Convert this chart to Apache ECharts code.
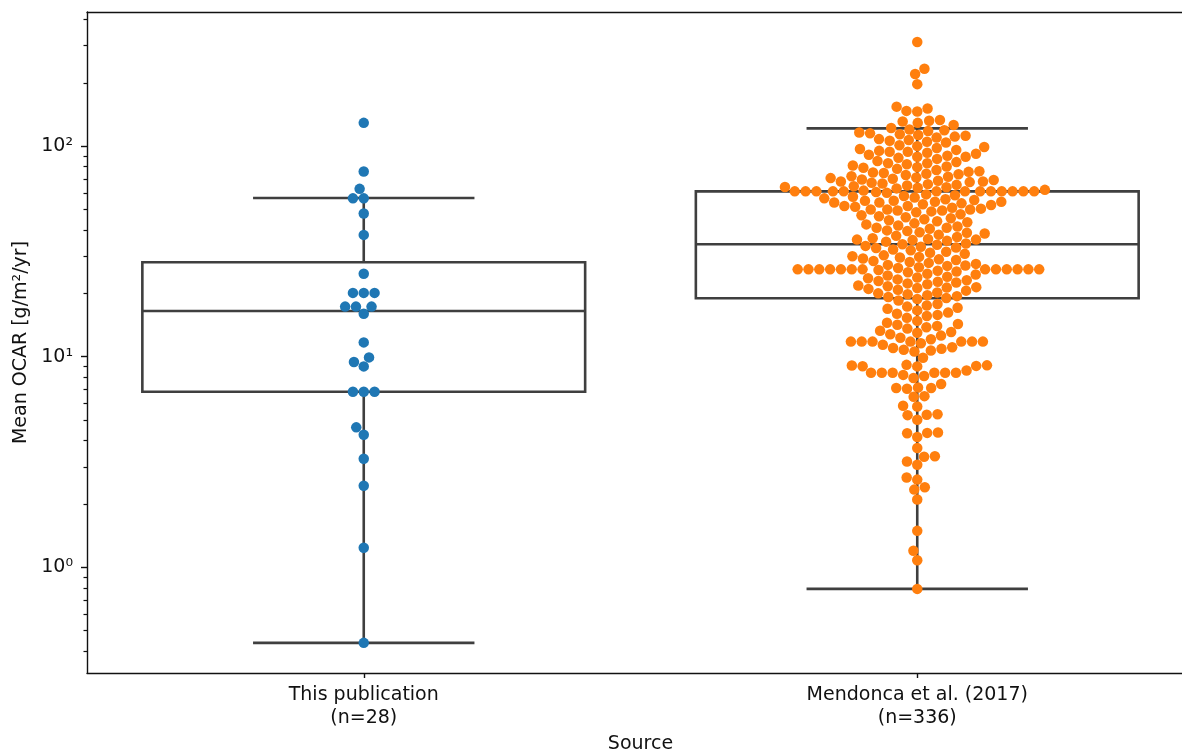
<!DOCTYPE html>
<html>
<head>
<meta charset="utf-8">
<title>Mean OCAR by source</title>
<script src="https://cdn.jsdelivr.net/npm/echarts@6/dist/echarts.min.js"></script>
<style>
  html, body { margin: 0; padding: 0; background: #fff; }
  #chart { width: 1182px; height: 753px; }
</style>
</head>
<body>
<div id="chart"></div>
<script>
// x categories
const categories = ['This publication\n(n=28)', 'Mendonca et al. (2017)\n(n=336)']

// mean OCAR [g/m2/yr]
const thisPublication = [
  129, 75.8, 62.7, 56.5, 56.5, 47.9, 37.9, 24.8,
  20.1, 20.1, 20.1, 17.3, 17.3, 17.3, 16.0, 11.7,
  9.93, 9.44, 9.0, 6.82, 6.82, 6.82, 4.62, 4.26,
  3.28, 2.44, 1.24, 0.438
]

const mendonca = [
  312, 233, 220, 197,
  154, 151, 147, 146,
  133, 132, 131, 129, 126,
  122, 120, 119, 118,
  116, 115, 114, 113, 112, 111, 110,
  108, 107, 106, 105, 104,
  101, 100, 99, 98, 97,
  96, 95, 94, 94, 93, 92,
  91, 90, 89, 89, 88, 87,
  85, 84, 83, 83, 82, 81,
  80, 79.5, 79, 78, 77,
  76, 75.5, 75, 74.5, 74, 73.5, 73,
  72, 71.5, 71, 70.5, 70, 69.5,
  69, 68.5, 68, 68, 67.5, 67, 66.5, 66,
  65.5, 65, 64.5, 64, 63.8, 63.5, 63,
  62, 61.5, 61, 61, 61, 61, 61, 61, 61, 61, 61, 61, 61, 61, 61, 60.5, 60,
  59, 58.5, 58, 57.5, 57, 56.5, 56,
  55.5, 55, 55, 54.5, 54.5, 54, 54, 53.5, 53,
  52.5, 52, 52, 51.5, 51,
  50.5, 50, 50, 50, 49.5, 49.5, 49, 48.5,
  47.5, 47, 46.5, 46, 45.5, 45,
  44.5, 44, 43.5, 43,
  42.5, 42, 41.5, 41, 41, 40.5,
  39.8, 39.5, 39, 38.8, 38.5, 38, 37.5,
  37, 36.5, 36.2, 36, 36, 35.8, 35.5, 35.2,
  34.5, 34.2, 34, 33.6, 33.3, 33, 32.8,
  32.3, 32, 31.5, 31.2, 30.8,
  30.3, 30, 29.8, 29.6, 29.3, 29, 28.8, 28.5,
  28.2, 27.9, 27.6, 27.3, 27.1, 27,
  26.6, 26.4, 26, 26, 26, 26, 26, 26, 26, 26, 26, 26, 26, 26, 26, 25.8, 25.6, 25.4, 25.2,
  24.8, 24.6, 24.3, 24, 23.8, 23.6, 23.3, 23.1, 22.9,
  22.7, 22.5, 22.3, 22.1,
  21.8, 21.6, 21.4, 21.3, 21.2, 21, 20.8, 20.6,
  20.2, 20, 19.8, 19.6, 19.4, 19.2, 19, 18.8, 18.5,
  17.8, 17.5, 17.3, 17.1, 16.9, 16.6,
  16.2, 16, 15.8, 15.6, 15.3,
  14.8, 14.5, 14.3, 14.2, 14, 13.8, 13.6,
  13.3, 13.1, 13, 12.8, 12.6,
  12.3, 12.1, 11.8, 11.8, 11.8, 11.8, 11.8, 11.8, 11.8, 11.6, 11.4,
  11.1, 11, 10.9, 10.8, 10.7, 10.6,
  9.9,
  9.15, 9.1, 9.08, 9.05, 9.02, 9.0,
  8.6, 8.4, 8.4, 8.4, 8.4, 8.4, 8.4, 8.2, 8.1,
  7.92, 7.42,
  7.15, 7.1, 7.1, 7.05,
  6.5, 6.45,
  5.85, 5.8,
  5.33, 5.3, 5.28,
  5.02,
  4.37, 4.35, 4.33,
  4.16, 3.69,
  3.37, 3.35,
  3.18, 3.07,
  2.67, 2.61, 2.40, 2.34, 2.10,
  1.49, 1.20, 1.08, 0.79
]

// box plot stats (one per category)
const whiskerLow = [0.438, 0.79]
const quartile1 = [6.82, 18.95]
const medians = [16.5, 34.2]
const quartile3 = [28.1, 61]
const whiskerHigh = [56.7, 121.5]

// log y axis
const yMin = 0.315
const yMax = 433.5
const majorTicks = [1, 10, 100]
const minorTicks = [0.4, 0.5, 0.6, 0.7, 0.8, 0.9, 2, 3, 4, 5, 6, 7, 8, 9,
  20, 30, 40, 50, 60, 70, 80, 90, 200, 300, 400]

const font = 'DejaVu Sans'
const lineColor = '#3f3f3f'
const spine = { color: '#111', width: 1.4 }
const sup = { '0': '\u2070', '1': '\u00b9', '2': '\u00b2' }

const chart = echarts.init(document.getElementById('chart'))

const boxData = categories.map((c, i) =>
  [i, whiskerLow[i], quartile1[i], medians[i], quartile3[i], whiskerHigh[i]])

function renderBox (params, api) {
  const c = api.value(0)
  const lo = api.value(1)
  const q1 = api.value(2)
  const md = api.value(3)
  const q3 = api.value(4)
  const hi = api.value(5)
  const p = (x, y) => api.coord([x, y])
  const style = { stroke: lineColor, lineWidth: 2.6, fill: null }
  const seg = (a, b) => ({ type: 'line', shape: { x1: a[0], y1: a[1], x2: b[0], y2: b[1] }, style: style })
  const tl = p(c - 0.4, q3)
  const br = p(c + 0.4, q1)
  return {
    type: 'group',
    children: [
      seg(p(c, q1), p(c, lo)),
      seg(p(c, q3), p(c, hi)),
      seg(p(c - 0.2, lo), p(c + 0.2, lo)),
      seg(p(c - 0.2, hi), p(c + 0.2, hi)),
      {
        type: 'rect',
        shape: { x: tl[0], y: tl[1], width: br[0] - tl[0], height: br[1] - tl[1] },
        style: { stroke: lineColor, lineWidth: 2.6, fill: '#fff' }
      },
      seg(p(c - 0.4, md), p(c + 0.4, md))
    ]
  }
}

const option = {
  animation: false,
  backgroundColor: '#fff',
  grid: {
    left: 87, width: 1107, top: 12, height: 661,
    containLabel: false,
    outerBoundsMode: 'none',
    show: false
  },
  xAxis: [
    {
      type: 'category',
      position: 'bottom',
      data: categories,
      name: 'Source',
      nameLocation: 'middle',
      nameGap: 58,
      nameTextStyle: { fontFamily: font, fontSize: 19, color: '#111' },
      axisLine: { show: true, onZero: false, lineStyle: spine },
      axisTick: { show: true, alignWithLabel: true, length: 5, lineStyle: spine },
      axisLabel: { fontFamily: font, fontSize: 19, color: '#111', lineHeight: 23, margin: 11, align: 'center' },
      splitLine: { show: false }
    },
    {
      // value axis for the swarm offsets; only its line is shown, as the top spine
      type: 'value',
      position: 'top',
      min: -0.5,
      max: 1.5,
      axisLine: { show: true, onZero: false, lineStyle: spine },
      axisTick: { show: false },
      axisLabel: { show: false },
      splitLine: { show: false }
    }
  ],
  yAxis: [
    {
      type: 'log',
      position: 'left',
      logBase: 10,
      min: yMin,
      max: yMax,
      name: 'Mean OCAR [g/m\u00b2/yr]',
      nameLocation: 'middle',
      nameGap: 56,
      nameTextStyle: { fontFamily: font, fontSize: 19, color: '#111' },
      axisLine: { show: true, onZero: false, lineStyle: spine },
      axisTick: { show: true, length: 6, customValues: majorTicks, lineStyle: spine },
      axisLabel: {
        fontFamily: font, fontSize: 19, color: '#111', margin: 14,
        customValues: majorTicks,
        formatter: v => '10' + sup[String(Math.round(Math.log10(v)))]
      },
      splitLine: { show: false },
      minorTick: { show: false }
    },
    {
      type: 'log',
      position: 'left',
      logBase: 10,
      min: yMin,
      max: yMax,
      axisLine: { show: false, onZero: false },
      axisTick: { show: true, length: 3.5, customValues: minorTicks, lineStyle: { color: '#111', width: 1.2 } },
      axisLabel: { show: false },
      splitLine: { show: false }
    }
  ],
  series: [
    {
      type: 'custom',
      name: 'box',
      xAxisIndex: 1,
      yAxisIndex: 0,
      z: 2,
      renderItem: renderBox,
      encode: { x: 0, y: [1, 2, 3, 4, 5] },
      data: boxData
    },
    {
      type: 'scatter',
      name: 'This publication',
      xAxisIndex: 1,
      yAxisIndex: 0,
      z: 3,
      symbolSize: 10.5,
      itemStyle: { color: '#1f77b4', opacity: 1 },
      data: []
    },
    {
      type: 'scatter',
      name: 'Mendonca et al. (2017)',
      xAxisIndex: 1,
      yAxisIndex: 0,
      z: 3,
      symbolSize: 10.5,
      itemStyle: { color: '#ff7f0e', opacity: 1 },
      data: []
    }
  ]
}

chart.setOption(option)

// beeswarm layout, same idea as seaborn: place points low to high,
// each at the free spot closest to the category centre
function swarm (values, cat, seriesIndex, d) {
  const finder = { seriesIndex: seriesIndex }
  const cx = chart.convertToPixel(finder, [cat, values[0]])[0]
  const pts = values.slice().sort((a, b) => a - b).map(v => ({
    v: v,
    y: chart.convertToPixel(finder, [cat, v])[1]
  }))
  const placed = []
  pts.forEach(pt => {
    const nbrs = placed.filter(q => Math.abs(q.y - pt.y) < d)
    const cands = [cx]
    nbrs.forEach(q => {
      const dy = pt.y - q.y
      const dx = Math.sqrt(Math.max(d * d - dy * dy, 0)) * 1.05
      cands.push(q.x - dx, q.x + dx)
    })
    const order = cands.map((x, i) => ({ x: x, i: i }))
      .sort((a, b) => (Math.abs(a.x - cx) - Math.abs(b.x - cx)) || (a.i - b.i))
    let x = order[0].x
    for (const c of order) {
      const ok = nbrs.every(q => (q.x - c.x) * (q.x - c.x) + (q.y - pt.y) * (q.y - pt.y) >= d * d - 1e-6)
      if (ok) { x = c.x; break }
    }
    pt.x = x
    placed.push(pt)
  })
  return pts.map(pt => [chart.convertFromPixel(finder, [pt.x, pt.y])[0], pt.v])
}

chart.setOption({
  series: [
    {},
    { data: swarm(thisPublication, 0, 1, 10.3) },
    { data: swarm(mendonca, 1, 2, 10.3) }
  ]
})
</script>
</body>
</html>
